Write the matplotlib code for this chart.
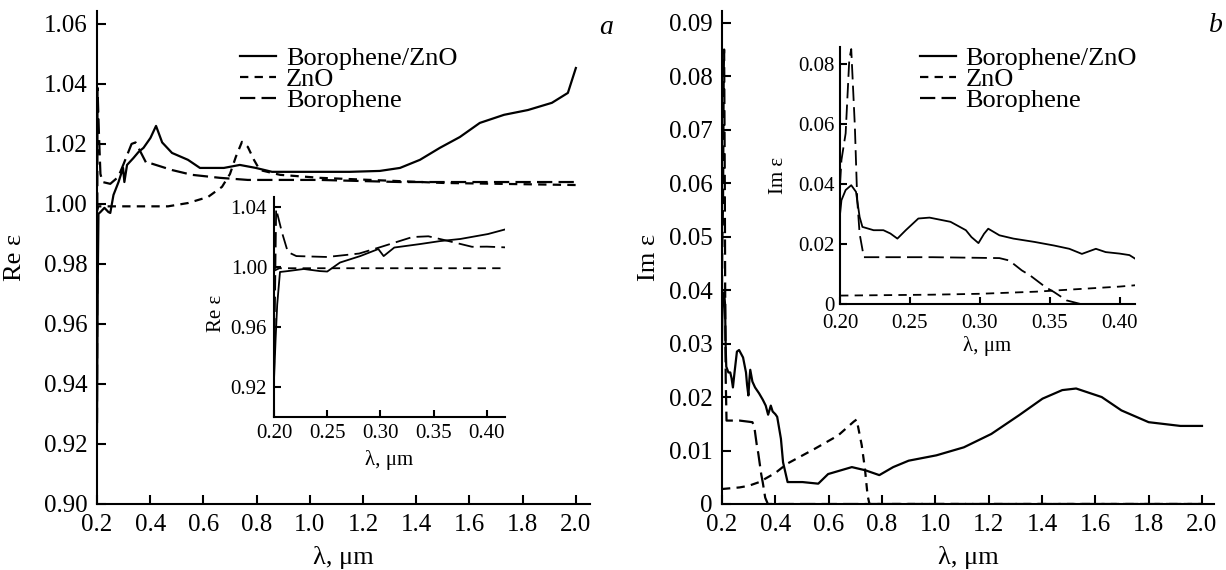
import numpy as np
import matplotlib
matplotlib.use('Agg')
import matplotlib.pyplot as plt
from matplotlib.lines import Line2D

plt.rcParams['font.family'] = ['Liberation Serif', 'DejaVu Serif']
plt.rcParams['lines.scale_dashes'] = False

# --- Re eps (panel a) ---
re_bz_lam = [0.200, 0.2015, 0.203, 0.2056, 0.213, 0.228, 0.243, 0.250, 0.262, 0.281, 0.298, 0.303,
             0.313, 0.337, 0.356, 0.375, 0.401, 0.422, 0.445, 0.482, 0.542, 0.587, 0.677, 0.737,
             0.797, 0.858, 0.95, 1.05, 1.15, 1.263, 1.339, 1.414, 1.489, 1.564, 1.639, 1.73,
             1.82, 1.91, 1.97, 2.0]
re_bz = [0.925, 0.952, 0.975, 0.9967, 0.9973, 0.9987, 0.9973, 0.997, 1.003, 1.0073, 1.012, 1.0073,
         1.013, 1.0153, 1.0173, 1.0187, 1.022, 1.026, 1.0205, 1.017, 1.0147, 1.012, 1.012, 1.013,
         1.012, 1.0107, 1.0107, 1.0107, 1.0107, 1.011, 1.012, 1.0147, 1.0187, 1.0223, 1.027, 1.0297,
         1.0313, 1.0337, 1.037, 1.0453]

re_b_lam = [0.200, 0.202, 0.2075, 0.213, 0.221, 0.250, 0.280, 0.300, 0.330, 0.345, 0.360, 0.386,
            0.400, 0.482, 0.557, 0.662, 0.767, 1.038, 1.339, 2.0]
re_b = [0.927, 1.0387, 1.023, 1.010, 1.0073, 1.0067, 1.009, 1.0133, 1.020, 1.0205, 1.018, 1.0135,
        1.0136, 1.0113, 1.0097, 1.0087, 1.008, 1.008, 1.0073, 1.0073]

re_z_lam = [0.200, 0.205, 0.256, 0.350, 0.467, 0.542, 0.617, 0.670, 0.700, 0.722, 0.745, 0.767,
            0.790, 0.812, 0.888, 1.038, 1.5, 2.0]
re_z = [0.9975, 0.9992, 0.9992, 0.9992, 0.9992, 1.0003, 1.0023, 1.0057, 1.010, 1.0157, 1.0207, 1.019,
        1.0147, 1.0113, 1.0097, 1.0087, 1.007, 1.0063]

# --- Im eps (panel b) ---
im_bz_lam = [0.200, 0.201, 0.204, 0.208, 0.2114, 0.214, 0.216, 0.224, 0.231, 0.236, 0.241, 0.247,
             0.256, 0.264, 0.279, 0.290, 0.294, 0.299, 0.303, 0.306, 0.314, 0.324, 0.339, 0.353,
             0.364, 0.373, 0.383, 0.390, 0.400, 0.407, 0.421, 0.429, 0.446, 0.502, 0.561, 0.598,
             0.687, 0.738, 0.790, 0.842, 0.900, 1.004, 1.107, 1.210, 1.314, 1.402, 1.476, 1.528,
             1.624, 1.698, 1.800, 1.919, 2.000]
im_bz = [0.030, 0.0346, 0.038, 0.0396, 0.0374, 0.029, 0.0257, 0.0246, 0.0246, 0.0235, 0.0218, 0.0246,
         0.0285, 0.0288, 0.0274, 0.0246, 0.0223, 0.0203, 0.0234, 0.0251, 0.0229, 0.0218, 0.0207, 0.0195,
         0.0184, 0.0167, 0.0184, 0.0173, 0.0168, 0.0163, 0.0122, 0.0078, 0.0041, 0.0041, 0.0038, 0.0056,
         0.0069, 0.0063, 0.0054, 0.0069, 0.0081, 0.0091, 0.0106, 0.0131, 0.0166, 0.0197, 0.0213, 0.0216,
         0.0200, 0.0175, 0.0153, 0.0146, 0.0146]

im_b_lam = [0.200, 0.201, 0.204, 0.2066, 0.208, 0.2106, 0.2123, 0.214, 0.217, 0.266, 0.314, 0.321,
            0.330, 0.336, 0.347, 0.353, 0.362, 0.372, 0.40, 2.0]
im_b = [0.040, 0.048, 0.0569, 0.0815, 0.085, 0.0591, 0.0346, 0.0234, 0.0156, 0.0156, 0.0153, 0.0145,
        0.0112, 0.0095, 0.0056, 0.004, 0.0012, 0.0, 0.0, 0.0]

im_z_lam = [0.200, 0.266, 0.300, 0.340, 0.400, 0.443, 0.547, 0.635, 0.694, 0.705, 0.724, 0.736,
            0.746, 0.753, 2.0]
im_z = [0.0028, 0.0031, 0.0034, 0.0041, 0.0058, 0.0075, 0.0103, 0.0128, 0.0154, 0.0158, 0.011, 0.0066,
        0.0016, 0.0, 0.0]

labels = ['Borophene/ZnO', 'ZnO', 'Borophene']
DASH_Z = (0, (6, 4.5))
DASH_B = (0, (11, 4.5))


def style_axes(ax, fs, ticklen, pad):
    for s in ['top', 'right']:
        ax.spines[s].set_visible(False)
    for s in ['left', 'bottom']:
        ax.spines[s].set_linewidth(1.5)
    ax.tick_params(direction='in', length=ticklen, width=1.5, labelsize=fs, pad=pad)


def draw(ax, lam_bz, bz, lam_z, z, lam_b, b, lw):
    ax.plot(lam_bz, bz, color='black', lw=lw, solid_joinstyle='round')
    ax.plot(lam_z, z, color='black', lw=lw, linestyle=DASH_Z)
    ax.plot(lam_b, b, color='black', lw=lw, linestyle=DASH_B)


fig = plt.figure(figsize=(12.26, 5.70), dpi=100)

handles = [Line2D([], [], color='black', lw=1.6),
           Line2D([], [], color='black', lw=1.6, linestyle=DASH_Z),
           Line2D([], [], color='black', lw=1.6, linestyle=DASH_B)]
leg_kw = dict(loc='upper left', frameon=False, fontsize=19, handlelength=1.36,
              handletextpad=0.38, labelspacing=-0.1, borderpad=0, borderaxespad=0)

# ---------- panel a ----------
ax1 = fig.add_axes([0.0791, 0.1158, 0.4021, 0.8649])
draw(ax1, re_bz_lam, re_bz, re_z_lam, re_z, re_b_lam, re_b, 1.6)
ax1.set_xlim(0.2, 2.053)
ax1.set_ylim(0.90, 1.0643)
ax1.set_xticks(np.arange(0.2, 2.01, 0.2))
ax1.set_xticklabels([f'{v:.1f}' for v in np.arange(0.2, 2.01, 0.2)])
ax1.set_yticks(np.arange(0.90, 1.061, 0.02))
ax1.set_yticklabels([f'{v:.2f}' for v in np.arange(0.90, 1.061, 0.02)])
style_axes(ax1, 18, 6.5, 7)
ax1.set_xlabel('λ, μm', fontsize=19)
ax1.set_ylabel('Re ε', fontsize=19)
ax1.xaxis.set_label_coords(0.5, -0.085)
ax1.yaxis.set_label_coords(-0.144, 0.5)

in1 = fig.add_axes([0.2235, 0.2684, 0.1884, 0.3860])
draw(in1, re_bz_lam, re_bz, re_z_lam, re_z, re_b_lam, re_b, 1.3)
in1.set_xlim(0.2, 0.417)
in1.set_ylim(0.90, 1.0467)
in1.set_xticks([0.20, 0.25, 0.30, 0.35, 0.40])
in1.set_xticklabels(['0.20', '0.25', '0.30', '0.35', '0.40'])
in1.set_yticks([0.92, 0.96, 1.00, 1.04])
in1.set_yticklabels(['0.92', '0.96', '1.00', '1.04'])
style_axes(in1, 15, 5, 5)
in1.set_xlabel('λ, μm', fontsize=15)
in1.set_ylabel('Re ε', fontsize=15)
in1.xaxis.set_label_coords(0.5, -0.15)
in1.yaxis.set_label_coords(-0.208, 0.47)
in1.legend(handles, labels, bbox_to_anchor=(0.290, 0.927), bbox_transform=ax1.transAxes, **leg_kw)

# ---------- panel b ----------
ax2 = fig.add_axes([0.5889, 0.1158, 0.4013, 0.8649])
draw(ax2, im_bz_lam, im_bz, im_z_lam, im_z, im_b_lam, im_b, 1.6)
ax2.set_xlim(0.2, 2.045)
ax2.set_ylim(0, 0.0922)
ax2.set_xticks(np.arange(0.2, 2.01, 0.2))
ax2.set_xticklabels([f'{v:.1f}' for v in np.arange(0.2, 2.01, 0.2)])
yt = np.arange(0, 0.091, 0.01)
ax2.set_yticks(yt)
ax2.set_yticklabels(['0'] + [f'{v:.2f}' for v in yt[1:]])
style_axes(ax2, 18, 6.5, 7)
ax2.set_xlabel('λ, μm', fontsize=19)
ax2.set_ylabel('Im ε', fontsize=19)
ax2.xaxis.set_label_coords(0.5, -0.085)
ax2.yaxis.set_label_coords(-0.126, 0.5)

in2 = fig.add_axes([0.6852, 0.4667, 0.2406, 0.4509])
draw(in2, im_bz_lam, im_bz, im_z_lam, im_z, im_b_lam, im_b, 1.3)
in2.set_xlim(0.2, 0.411)
in2.set_ylim(0, 0.0857)
in2.set_xticks([0.20, 0.25, 0.30, 0.35, 0.40])
in2.set_xticklabels(['0.20', '0.25', '0.30', '0.35', '0.40'])
in2.set_yticks([0, 0.02, 0.04, 0.06, 0.08])
in2.set_yticklabels(['0', '0.02', '0.04', '0.06', '0.08'])
style_axes(in2, 15, 5, 4)
in2.tick_params(axis='x', pad=7)
in2.set_xlabel('λ, μm', fontsize=15)
in2.set_ylabel('Im ε', fontsize=15)
in2.xaxis.set_label_coords(0.5, -0.125)
in2.yaxis.set_label_coords(-0.176, 0.5)
in2.legend(handles, labels, bbox_to_anchor=(0.402, 0.927), bbox_transform=ax2.transAxes, **leg_kw)

fig.text(606 / 1226, 1 - 27 / 570, 'a', fontsize=20, style='italic', ha='center', va='center')
fig.text(1216 / 1226, 1 - 25 / 570, 'b', fontsize=20, style='italic', ha='center', va='center')

fig.savefig('out.png', dpi=100)
